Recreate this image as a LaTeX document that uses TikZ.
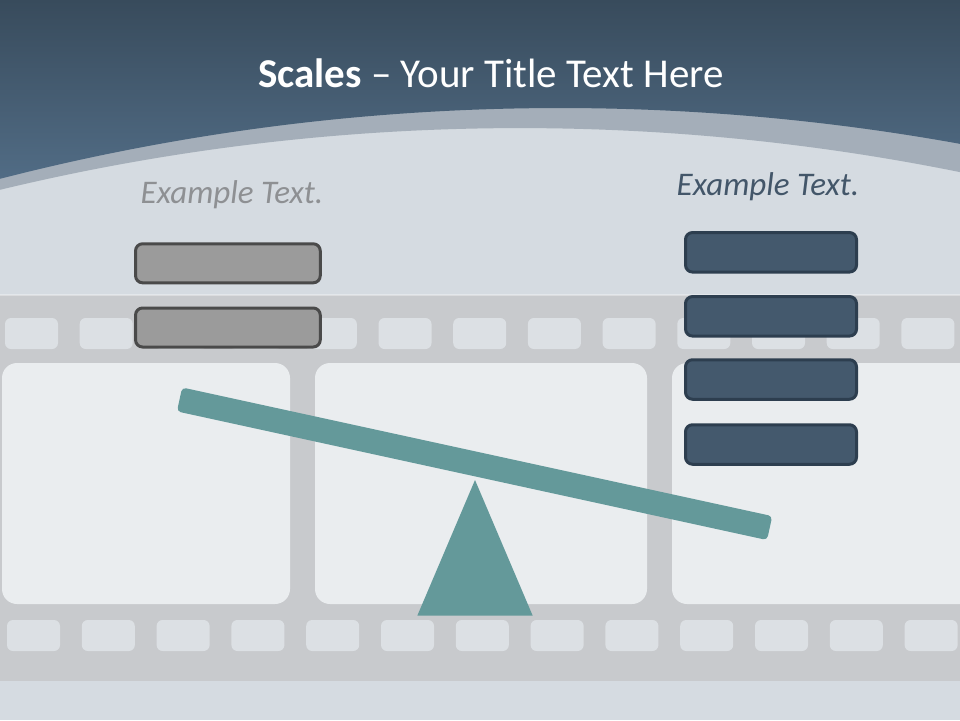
\documentclass[tikz,border=0pt]{standalone}
\usepackage{fontspec}
\setmainfont{Carlito}
\usepackage{tikz}
\usetikzlibrary{arrows.meta}

\definecolor{hdrtop}{HTML}{384B5C}
\definecolor{hdrbot}{HTML}{516C85}
\definecolor{bandgray}{HTML}{A4AEB9}
\definecolor{slidebg}{HTML}{D5DBE1}
\definecolor{stripgray}{HTML}{C8CACD}
\definecolor{framewhite}{HTML}{EAEDEF}
\definecolor{holewhite}{HTML}{DCE0E4}
\definecolor{beamteal}{HTML}{64999A}
\definecolor{lboxfill}{HTML}{9B9B9B}
\definecolor{lboxline}{HTML}{4A4A4A}
\definecolor{rboxfill}{HTML}{44596D}
\definecolor{rboxline}{HTML}{2D3E4F}
\definecolor{lcaptext}{HTML}{8E9093}
\definecolor{rcaptext}{HTML}{435669}

\begin{document}
\begin{tikzpicture}[x=1pt,y=-1pt,
  lbox/.style={draw=lboxline,fill=lboxfill,line width=3pt,rounded corners=7pt,
    minimum width=184.7pt,minimum height=39pt,inner sep=0pt},
  rbox/.style={draw=rboxline,fill=rboxfill,line width=3pt,rounded corners=7pt,
    minimum width=171pt,minimum height=39.5pt,inner sep=0pt},
  caption/.style={font=\fontsize{33}{37}\selectfont\itshape,anchor=base},
  hole/.style={fill=holewhite,rounded corners=6pt},
  beam/.style={fill=beamteal,rounded corners=4pt,inner sep=0pt,
    minimum width=604pt,minimum height=24.5pt}]
  \useasboundingbox (0,0) rectangle (960,720);
  \fill[slidebg] (0,0) rectangle (960,720);

  % header: light band under the dark curved top
  \fill[bandgray] (0,0) -- (0,189.8)
    arc[start angle=-103.545,end angle=-78.57,radius=2220] -- (960,0) -- cycle;
  \shade[top color=hdrtop,bottom color=hdrbot] (0,0) -- (0,178.8)
    arc[start angle=-104.41,end angle=-79.76,radius=2250] -- (960,0) -- cycle;

  % film strip
  \fill[stripgray] (0,295) rectangle (960,681);
  \fill[white,opacity=0.35] (0,294) rectangle (960,296);
  \fill[framewhite,rounded corners=15pt] (2,363) rectangle (290,604);
  \fill[framewhite,rounded corners=15pt] (315,363) rectangle (647,604);
  \fill[framewhite,rounded corners=15pt] (672,363) rectangle (975,604);
  \foreach \i in {0,...,12} {
    \fill[hole] (5+74.7*\i,318) rectangle ++(53,31);
    \fill[hole] (7+74.8*\i,620) rectangle ++(53,31);
  }

  \node[white,anchor=base,font=\fontsize{41}{45}\selectfont] (title)
    at (491,87) {\textbf{Scales} – Your Title Text Here};

  \node[caption,text=lcaptext] (lcap) at (232,203) {Example Text.};
  \node[caption,text=rcaptext] (rcap) at (768,195) {Example Text.};

  \node[lbox] (lbox1) at (227.9,263.3) {};
  \node[lbox] (lbox2) at (227.9,327.5) {};

  \node[rbox] (rbox1) at (771,252.3) {};
  \node[rbox] (rbox2) at (771,316.3) {};
  \node[rbox] (rbox3) at (771,379.5) {};
  \node[rbox] (rbox4) at (771,444.5) {};

  % fulcrum and tilted beam
  \fill[beamteal] (475,480) -- (532.7,615.7) -- (417.3,615.7) -- cycle;
  \node[beam,rotate=-12.3] (beam) at (474.6,463.75) {};
\end{tikzpicture}
\end{document}
